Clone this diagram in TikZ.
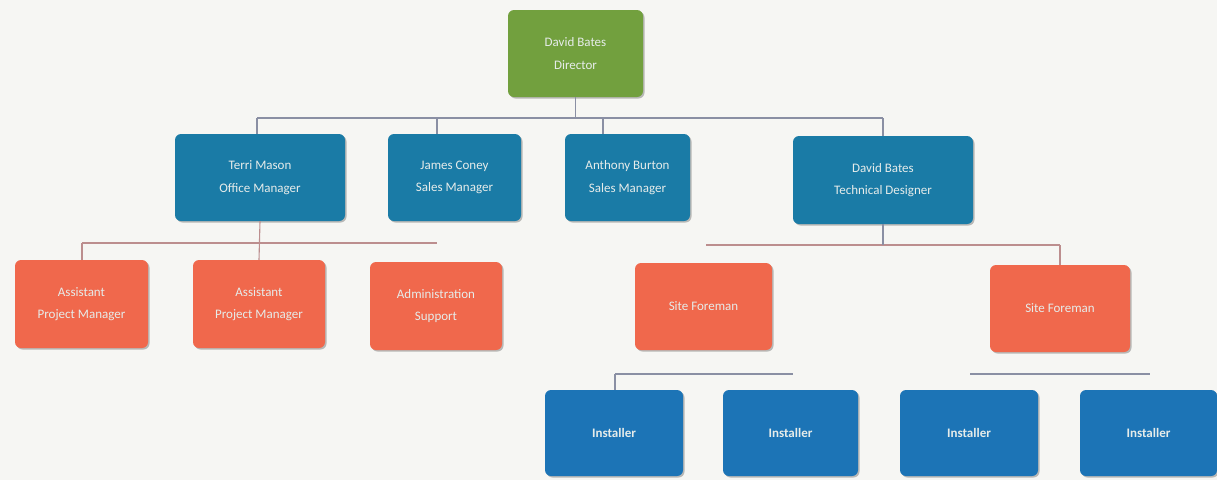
\documentclass[tikz,border=0pt]{standalone}
\usepackage{fontspec}
\setmainfont{Carlito}
\usetikzlibrary{shadows}
\definecolor{bg}{HTML}{F6F6F3}
\definecolor{dirgreen}{HTML}{72A03E}
\definecolor{mgrblue}{HTML}{1A7BA6}
\definecolor{instblue}{HTML}{1C74B6}
\definecolor{salmon}{HTML}{F0684C}
\definecolor{busgrey}{HTML}{8A8FA3}
\definecolor{busred}{HTML}{BC8E8E}
\definecolor{txt}{HTML}{E6ECEA}
\tikzset{
  box/.style={rectangle, rounded corners=6pt, draw=none, text=txt, align=center,
    font=\fontsize{13}{22.5}\selectfont, inner sep=2pt,
    drop shadow={shadow xshift=1.5pt, shadow yshift=-1.5pt, opacity=0.25, fill=black}},
  dirbox/.style={box, fill=dirgreen},
  mgrbox/.style={box, fill=mgrblue},
  redbox/.style={box, fill=salmon},
  instbox/.style={box, fill=instblue, font=\fontsize{13}{22.5}\selectfont\bfseries},
  greyline/.style={draw=busgrey, line width=1.1pt},
  redline/.style={draw=busred, line width=1.1pt}
}
\begin{document}
\begin{tikzpicture}[x=1pt,y=-1pt]
\fill[bg] (0,0) rectangle (1217,480);
\useasboundingbox (0,0) rectangle (1217,480);

% nodes
\node[dirbox, minimum width=135pt, minimum height=87pt] (dir) at (575.5,53.5) {David Bates\\Director};
\node[mgrbox, minimum width=170pt, minimum height=87pt] (tm) at (260,177.5) {Terri Mason\\Office Manager};
\node[mgrbox, minimum width=133pt, minimum height=87pt] (jc) at (454.5,177.5) {James Coney\\Sales Manager};
\node[mgrbox, minimum width=125pt, minimum height=87pt] (ab) at (627.5,177.5) {Anthony Burton\\Sales Manager};
\node[mgrbox, minimum width=180pt, minimum height=88pt] (td) at (883,180) {David Bates\\Technical Designer};
\node[redbox, minimum width=133pt, minimum height=88pt] (ap1) at (81.5,304) {Assistant\\Project Manager};
\node[redbox, minimum width=132pt, minimum height=88pt] (ap2) at (259,304) {Assistant\\Project Manager};
\node[redbox, minimum width=132pt, minimum height=88pt] (as) at (436,306) {Administration\\Support};
\node[redbox, minimum width=137pt, minimum height=87pt] (sf1) at (703.5,306.5) {Site Foreman};
\node[redbox, minimum width=140pt, minimum height=87pt] (sf2) at (1060,308.5) {Site Foreman};
\node[instbox, minimum width=138pt, minimum height=86pt] (i1) at (614,433) {Installer};
\node[instbox, minimum width=135pt, minimum height=86pt] (i2) at (790.5,433) {Installer};
\node[instbox, minimum width=138pt, minimum height=86pt] (i3) at (969,433) {Installer};
\node[instbox, minimum width=137pt, minimum height=86pt] (i4) at (1148.5,433) {Installer};

% top bus
\coordinate (busL) at (257,118);
\coordinate (busR) at (883,118);
\coordinate (jcx) at (437,118);
\coordinate (abx) at (603,118);
\draw[greyline] (busL) -- (busR);
\draw[greyline] (dir.south) -- (dir.south |- busL);
\draw[greyline] (busL) -- (busL |- tm.north);
\draw[greyline] (jcx) -- (jcx |- jc.north);
\draw[greyline] (abx) -- (abx |- ab.north);
\draw[greyline] (busR) -- (td.north);

% office manager bus
\coordinate (omL) at (82,243);
\coordinate (omR) at (437,243);
\draw[redline] (omL) -- (omR);
\draw[redline] (tm.south) -- (ap2.north);
\draw[redline] (omL) -- (omL |- ap1.north);

% technical designer bus
\coordinate (tdL) at (706,245);
\coordinate (tdR) at (1060,245);
\draw[redline] (tdL) -- (tdR);
\draw[greyline] (td.south) -- (td.south |- tdL);
\draw[redline] (tdR) -- (sf2.north);

% installer buses
\coordinate (ilL) at (615,374);
\coordinate (ilR) at (793,374);
\draw[greyline] (ilL) -- (ilR);
\draw[greyline] (ilL) -- (ilL |- i1.north);
\coordinate (irL) at (970,374);
\coordinate (irR) at (1150,374);
\draw[greyline] (irL) -- (irR);
\end{tikzpicture}
\end{document}
